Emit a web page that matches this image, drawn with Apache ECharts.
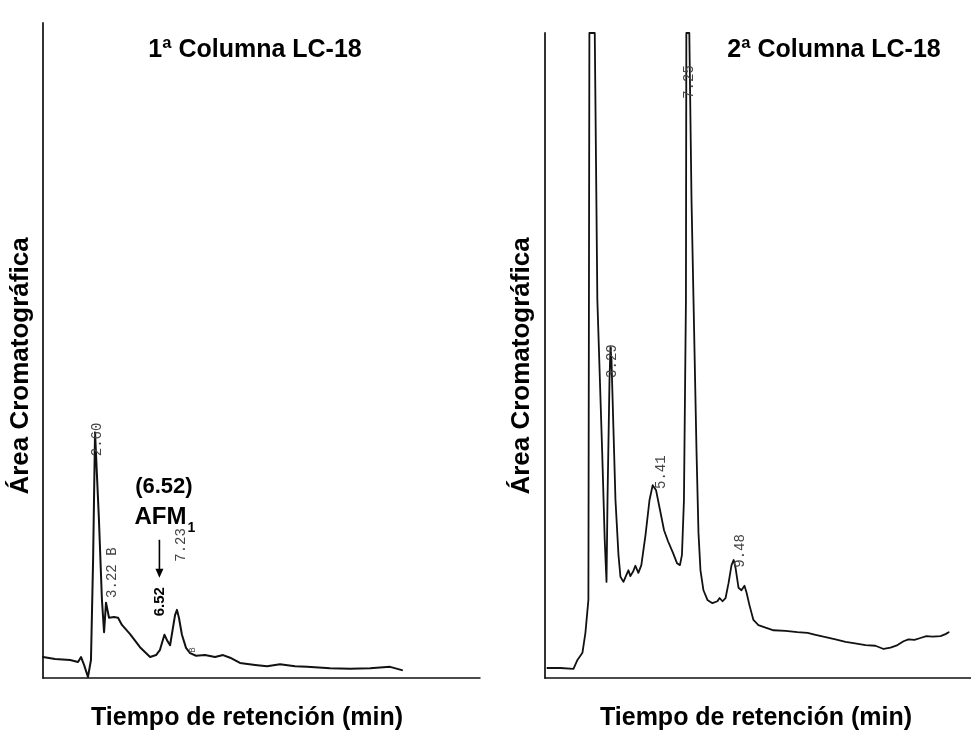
<!DOCTYPE html>
<html>
<head>
<meta charset="utf-8">
<script src="https://cdn.jsdelivr.net/npm/echarts@6/dist/echarts.min.js"></script>
<style>
  html, body { margin: 0; padding: 0; background: #ffffff; }
  #chart { width: 971px; height: 733px; }
</style>
</head>
<body>
<div id="chart"></div>
<script>
// Column 1 chromatogram: retention time (min) and detector signal (relative, 0-100)
const col1Time = [-0.34, 0.34, 1.19, 1.64, 1.81, 1.98, 2.20, 2.37, 2.49, 2.60, 2.66, 2.82, 2.99, 3.11, 3.22, 3.39, 3.50, 3.67, 3.90, 4.12, 4.58, 5.14, 5.71, 6.05, 6.27, 6.52, 6.70, 6.84, 7.12, 7.23, 7.34, 7.51, 7.74, 7.97, 8.31, 8.81, 9.38, 9.83, 10.23, 10.79, 11.64, 12.32, 13.05, 13.90, 14.58, 15.88, 17.01, 18.14, 19.27, 19.94];
const col1Signal = [3.2, 2.9, 2.75, 2.45, 3.2, 2.0, 0.15, 2.75, 18.0, 37.5, 37.2, 24.2, 11.9, 7.0, 11.5, 9.2, 8.9, 9.3, 9.2, 8.1, 6.7, 4.7, 3.2, 3.5, 4.3, 6.6, 5.6, 5.0, 9.6, 10.4, 9.2, 6.6, 4.6, 3.8, 3.4, 3.5, 3.2, 3.5, 3.1, 2.3, 2.0, 1.8, 2.1, 1.8, 1.7, 1.5, 1.4, 1.5, 1.7, 1.2];

// Column 2 chromatogram (off-scale peaks are clipped at the top of the trace)
const col2Time = [0.12, 0.77, 1.43, 1.63, 1.88, 2.03, 2.18, 2.23, 2.50, 2.63, 2.87, 3.00, 3.09, 3.14, 3.24, 3.29, 3.34, 3.44, 3.54, 3.69, 3.79, 3.94, 4.09, 4.19, 4.29, 4.44, 4.54, 4.69, 4.84, 5.05, 5.25, 5.41, 5.58, 5.78, 5.98, 6.18, 6.43, 6.63, 6.78, 6.88, 6.98, 7.08, 7.10, 7.25, 7.36, 7.46, 7.61, 7.71, 7.81, 7.96, 8.16, 8.41, 8.66, 8.77, 8.92, 9.07, 9.22, 9.37, 9.48, 9.57, 9.72, 9.87, 10.02, 10.12, 10.27, 10.47, 10.72, 11.08, 11.48, 12.08, 12.68, 13.19, 13.59, 13.99, 14.59, 15.10, 15.50, 16.10, 16.60, 17.01, 17.36, 17.71, 18.01, 18.26, 18.56, 18.86, 19.16, 19.47, 19.87, 20.12, 20.28];
const col2Signal = [1.55, 1.55, 1.4, 2.8, 3.9, 7.0, 12.1, 100, 100, 58.6, 35.3, 21.4, 14.9, 27.6, 46.2, 51.3, 49.3, 38.4, 27.6, 19.1, 15.7, 14.9, 16.0, 16.7, 15.8, 16.6, 17.4, 16.3, 17.5, 22.2, 27.6, 29.9, 29.1, 26.0, 22.9, 21.2, 19.4, 17.8, 17.5, 19.1, 27.6, 58.6, 100, 100, 74.1, 58.6, 35.3, 22.5, 16.7, 13.6, 12.1, 11.6, 11.9, 12.4, 11.9, 12.4, 14.7, 17.5, 18.3, 17.1, 14.0, 13.6, 14.3, 13.3, 11.3, 9.0, 8.2, 7.8, 7.4, 7.3, 7.1, 7.0, 6.7, 6.4, 6.0, 5.6, 5.4, 5.1, 5.0, 4.5, 4.7, 5.1, 5.7, 6.0, 5.9, 6.2, 6.5, 6.4, 6.5, 6.8, 7.1];

// Integrator retention-time marks printed next to the peaks
const col1PeakTimes = [2.60, 3.22, 7.23];
const col1PeakTexts = ['2.60', '3.22 B', '7.23'];
const col2PeakTimes = [3.29, 5.41, 7.25, 9.48];
const col2PeakTexts = ['3.29', '5.41', '7.25', '9.48'];

// Marked analyte
const targetTime = 6.52;
const targetName = 'AFM';
const targetSub = '1';

const panelTitles = ['1ª Columna LC-18', '2ª Columna LC-18'];
const xTitle = 'Tiempo de retención (min)';
const yTitle = 'Área Cromatográfica';

const FONT = '"Liberation Sans", Arial, sans-serif';
const MONO = '"Liberation Mono", "DejaVu Sans Mono", monospace';

function pairs(xs, ys) { return xs.map((x, i) => [x, ys[i]]); }

const chart = echarts.init(document.getElementById('chart'), null, { renderer: 'canvas' });

const axisLineX = { show: true, onZero: false, lineStyle: { color: '#111', width: 1.5 } };
const axisLineY = { show: true, onZero: false, lineStyle: { color: '#333', width: 2 } };
const hidden = {
  axisTick: { show: false }, axisLabel: { show: false }, splitLine: { show: false }
};

chart.setOption({
  animation: false,
  backgroundColor: '#ffffff',
  grid: [
    { left: 43, top: 23, width: 437, height: 655 },
    { left: 545, top: 33, width: 426, height: 645 }
  ],
  xAxis: [
    Object.assign({ type: 'value', gridIndex: 0, min: -0.34, max: 24.35, axisLine: axisLineX }, hidden),
    Object.assign({ type: 'value', gridIndex: 1, min: 0, max: 21.4, axisLine: axisLineX }, hidden)
  ],
  yAxis: [
    Object.assign({ type: 'value', gridIndex: 0, min: 0, max: 100, axisLine: axisLineY }, hidden),
    Object.assign({ type: 'value', gridIndex: 1, min: 0, max: 100, axisLine: axisLineY }, hidden)
  ],
  series: [
    {
      type: 'line', xAxisIndex: 0, yAxisIndex: 0, data: pairs(col1Time, col1Signal),
      showSymbol: false, symbol: 'none', silent: true,
      lineStyle: { color: '#111', width: 2, join: 'round', cap: 'round' }
    },
    {
      type: 'line', xAxisIndex: 1, yAxisIndex: 1, data: pairs(col2Time, col2Signal),
      showSymbol: false, symbol: 'none', silent: true,
      lineStyle: { color: '#111', width: 1.8, join: 'round', cap: 'round' }
    }
  ]
});

// Text placement (pixel offsets from each peak apex)
const col1Offsets = [[2, 7], [6, -30], [4, -65]];
const col2Offsets = [[2, 14], [9, -13], [0, 49], [7, -9]];

function signalAt(times, signals, t) {
  const i = times.indexOf(t);
  return i >= 0 ? signals[i] : 0;
}

const graphics = [];

function peakMarks(gridIndex, times, signals, peakTimes, texts, offsets) {
  peakTimes.forEach((t, k) => {
    const p = chart.convertToPixel({ gridIndex }, [t, signalAt(times, signals, t)]);
    graphics.push({
      type: 'text', x: p[0] + offsets[k][0], y: p[1] + offsets[k][1], rotation: Math.PI / 2,
      z: 10, silent: true,
      style: { text: texts[k], font: '14px ' + MONO, fill: '#444', align: 'center', verticalAlign: 'middle' }
    });
  });
}
peakMarks(0, col1Time, col1Signal, col1PeakTimes, col1PeakTexts, col1Offsets);
peakMarks(1, col2Time, col2Signal, col2PeakTimes, col2PeakTexts, col2Offsets);

// small baseline mark after the 7.23 peak
(function () {
  const p = chart.convertToPixel({ gridIndex: 0 }, [7.97, signalAt(col1Time, col1Signal, 7.97)]);
  graphics.push({
    type: 'text', x: p[0] + 3, y: p[1] - 3, rotation: Math.PI / 2, z: 10, silent: true,
    style: { text: 'B', font: '9px ' + MONO, fill: '#555', align: 'center', verticalAlign: 'middle' }
  });
})();

// AFM1 annotation anchored to its peak
(function () {
  const p = chart.convertToPixel({ gridIndex: 0 }, [targetTime, signalAt(col1Time, col1Signal, targetTime)]);
  const ax = p[0] - 5;
  const tipY = p[1] - 57;
  graphics.push({
    type: 'text', x: ax, y: p[1] - 33, rotation: Math.PI / 2, z: 10, silent: true,
    style: { text: targetTime.toFixed(2), font: 'bold 15px ' + FONT, fill: '#000', align: 'center', verticalAlign: 'middle' }
  });
  graphics.push({
    type: 'line', z: 10, silent: true,
    shape: { x1: ax, y1: tipY - 38, x2: ax, y2: tipY - 6 },
    style: { stroke: '#000', lineWidth: 1.6 }
  });
  graphics.push({
    type: 'polygon', z: 10, silent: true,
    shape: { points: [[ax - 4, tipY - 9], [ax + 4, tipY - 9], [ax, tipY]] },
    style: { fill: '#000' }
  });
  graphics.push({
    type: 'text', x: ax + 4.5, y: tipY - 91, z: 10, silent: true,
    style: { text: '(' + targetTime.toFixed(2) + ')', font: 'bold 22px ' + FONT, fill: '#000', align: 'center', verticalAlign: 'middle' }
  });
  graphics.push({
    type: 'text', x: ax + 1, y: tipY - 60, z: 10, silent: true,
    style: { text: targetName, font: 'bold 24px ' + FONT, fill: '#000', align: 'center', verticalAlign: 'middle' }
  });
  graphics.push({
    type: 'text', x: ax + 32, y: tipY - 50, z: 10, silent: true,
    style: { text: targetSub, font: 'bold 14px ' + FONT, fill: '#000', align: 'center', verticalAlign: 'middle' }
  });
})();

// Panel titles and axis titles
[[255, 50], [834, 50]].forEach((c, i) => {
  graphics.push({
    type: 'text', x: c[0], y: c[1], silent: true,
    style: { text: panelTitles[i], font: 'bold 25px ' + FONT, fill: '#000', align: 'center', verticalAlign: 'middle' }
  });
});
[[247, 718], [756, 718]].forEach(c => {
  graphics.push({
    type: 'text', x: c[0], y: c[1], silent: true,
    style: { text: xTitle, font: 'bold 25px ' + FONT, fill: '#000', align: 'center', verticalAlign: 'middle' }
  });
});
[[21, 366], [522, 366]].forEach(c => {
  graphics.push({
    type: 'text', x: c[0], y: c[1], rotation: Math.PI / 2, silent: true,
    style: { text: yTitle, font: 'bold 26px ' + FONT, fill: '#000', align: 'center', verticalAlign: 'middle' }
  });
});

chart.setOption({ graphic: graphics });
</script>
</body>
</html>
